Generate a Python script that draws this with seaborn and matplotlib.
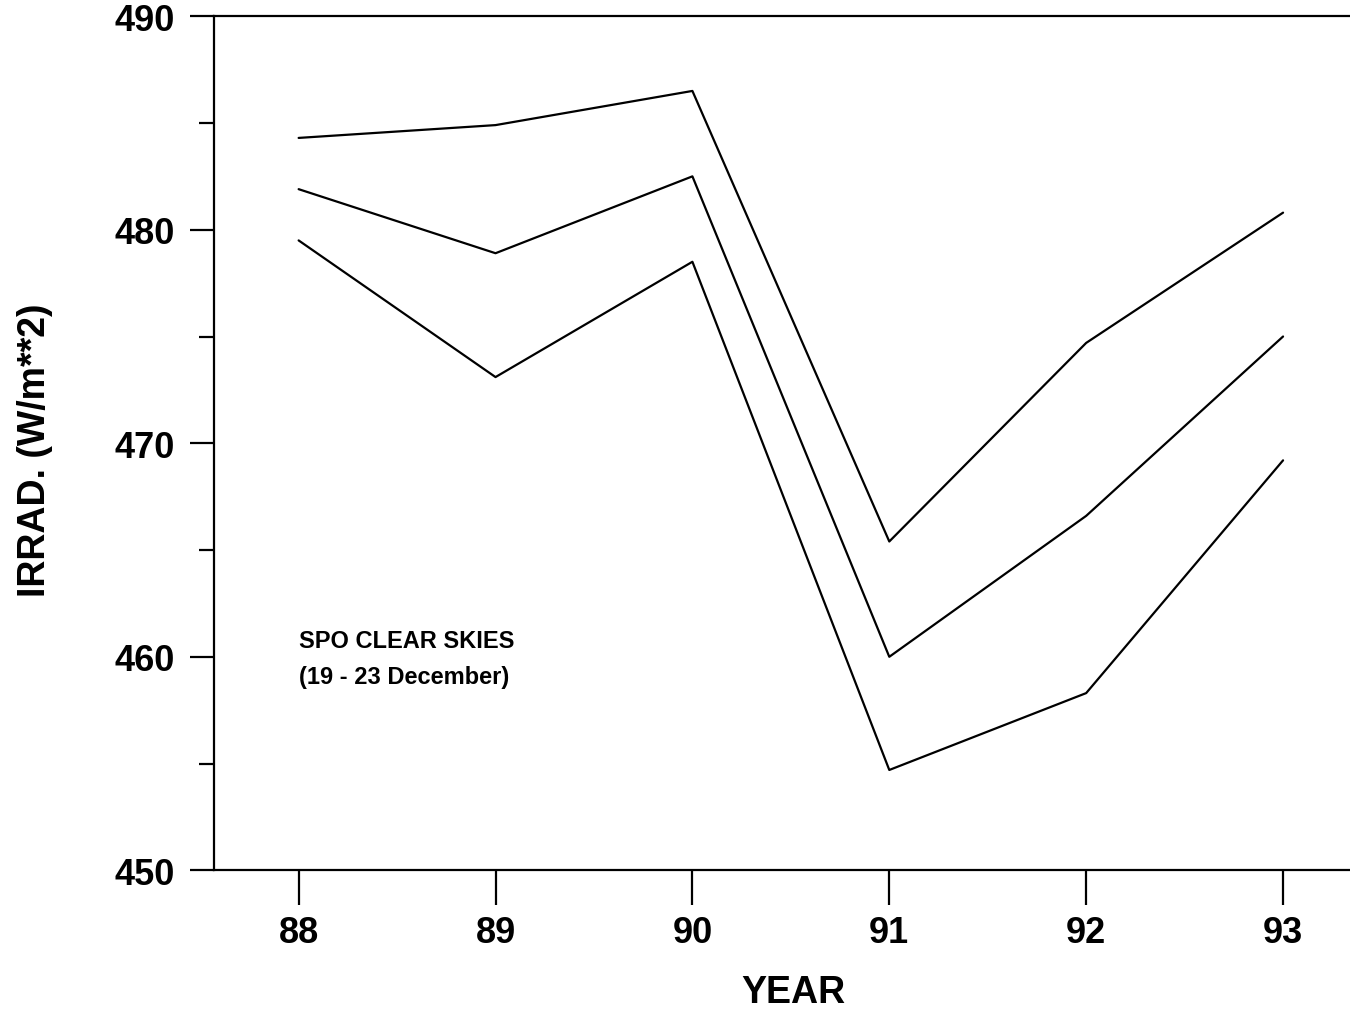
import matplotlib
matplotlib.use("Agg")
import matplotlib.pyplot as plt
import seaborn as sns
import pandas as pd
from matplotlib.ticker import MultipleLocator

years = [88, 89, 90, 91, 92, 93]
upper = [484.3, 484.9, 486.5, 465.4, 474.7, 480.8]
middle = [481.9, 478.9, 482.5, 460.0, 466.6, 475.0]
lower = [479.5, 473.1, 478.5, 454.7, 458.3, 469.2]
series_names = ["upper", "middle", "lower"]

sns.set_theme(style="ticks")
plt.rcParams["font.family"] = ["Liberation Sans", "DejaVu Sans"]
plt.rcParams["font.weight"] = "bold"
plt.rcParams["text.color"] = "black"
plt.rcParams["axes.labelcolor"] = "black"
plt.rcParams["xtick.color"] = "black"
plt.rcParams["ytick.color"] = "black"

frames = []
for name, vals in zip(series_names, [upper, middle, lower]):
    frames.append(pd.DataFrame({"year": years, "irrad": vals, "series": name}))
df = pd.concat(frames, ignore_index=True)

fig = plt.figure(figsize=(13.5, 10.12), dpi=100)
ax = fig.add_axes([0.1585, 0.139, 1.0 - 0.1585, 0.844])

sns.lineplot(data=df, x="year", y="irrad", units="series", estimator=None,
             color="black", linewidth=1.6, ax=ax, legend=False)

ax.set_xlim(87.57, 93.34)
ax.set_ylim(450, 490)
ax.set_xticks(years)
ax.set_xticklabels([str(y) for y in years])
ax.yaxis.set_major_locator(MultipleLocator(10))
ax.yaxis.set_minor_locator(MultipleLocator(5))

for s in ["left", "bottom", "top"]:
    ax.spines[s].set_linewidth(1.6)
    ax.spines[s].set_color("black")
ax.spines["right"].set_visible(False)

ax.tick_params(axis="y", which="major", direction="out", length=17, width=1.6,
               labelsize=26, pad=11, color="black", labelcolor="black")
ax.tick_params(axis="y", which="minor", direction="out", length=11, width=1.6,
               color="black")
ax.tick_params(axis="x", which="major", direction="out", length=25, width=1.6,
               labelsize=26, pad=7, color="black", labelcolor="black")
for lab in ax.get_xticklabels() + ax.get_yticklabels():
    lab.set_fontweight("bold")

ax.set_xlabel("YEAR", fontsize=27, fontweight="bold", color="black")
ax.set_ylabel("IRRAD. (W/m**2)", fontsize=27, fontweight="bold", color="black")
ax.xaxis.label.set_va("center")
ax.yaxis.label.set_va("center")
ax.xaxis.set_label_coords(0.51, -0.143)
ax.yaxis.set_label_coords(-0.1576, 0.493)

ax.text(88, 460.45, "SPO CLEAR SKIES", fontsize=17, fontweight="bold",
        ha="left", va="baseline", color="black")
ax.text(88, 458.75, "(19 - 23 December)", fontsize=17, fontweight="bold",
        ha="left", va="baseline", color="black")

fig.savefig("out.png", dpi=100, facecolor="white")
